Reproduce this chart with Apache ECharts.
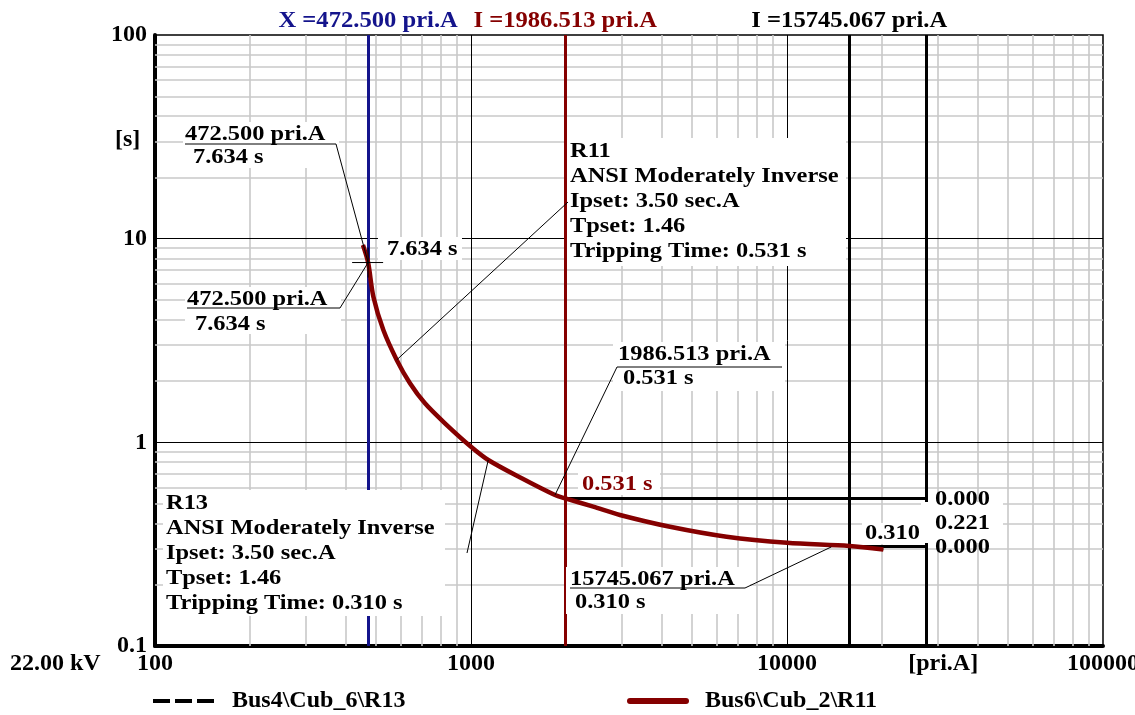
<!DOCTYPE html>
<html>
<head>
<meta charset="utf-8">
<script src="https://cdn.jsdelivr.net/npm/echarts@6/dist/echarts.min.js"></script>
<style>
  html, body { margin: 0; padding: 0; background: #fff; }
  #main { width: 1135px; height: 715px; }
</style>
</head>
<body>
<div id="main"></div>
<script>
// Time-overcurrent characteristic, ANSI moderately inverse (R11 / R13, same settings)
// primary current [pri.A] and tripping time [s]
const currentA  = [455, 472.5, 491, 528, 582, 641, 715, 827, 1000, 1134, 1447, 1844, 1986.513, 2438, 2961, 4264, 6442, 10000, 15745.067, 20180];
const tripTimeS = [9.30, 7.634, 5.19, 3.56, 2.54, 1.95, 1.554, 1.24, 0.951, 0.819, 0.666, 0.551, 0.531, 0.483, 0.440, 0.385, 0.344, 0.321, 0.310, 0.298];

// axis decades
const xDecades = [100, 1000, 10000, 100000];
const yDecades = [0.1, 1, 10, 100];

// cursors
const cursorX = 472.5,         cursorXTime = 7.634;
const cursorR11 = 1986.513,    timeR11 = 0.531;
const cursorR13 = 15745.067,   timeR13 = 0.310;
const diffMarkerX = 27500;
const diffLabels = ['0.000', '0.221', '0.000'];

const seriesR13 = 'Bus4\\Cub_6\\R13';
const seriesR11 = 'Bus6\\Cub_2\\R11';

const relayR11 = ['R11', 'ANSI Moderately Inverse', 'Ipset: 3.50 sec.A', 'Tpset: 1.46', 'Tripping Time: 0.531 s'];
const relayR13 = ['R13', 'ANSI Moderately Inverse', 'Ipset: 3.50 sec.A', 'Tpset: 1.46', 'Tripping Time: 0.310 s'];

const FONT = '"Liberation Serif", "Times New Roman", serif';
const RED = '#850000';
const BLUE = '#14148c';

const curve = currentA.map((c, i) => [c, tripTimeS[i]]);

// minor grid (2..9 within every decade)
const minorX = [], minorY = [];
for (let i = 0; i < xDecades.length - 1; i++) for (let m = 2; m <= 9; m++) minorX.push(xDecades[i] * m);
for (let i = 0; i < yDecades.length - 1; i++) for (let m = 2; m <= 9; m++) minorY.push(+(yDecades[i] * m).toPrecision(3));
const majorX = xDecades.slice(1, -1), majorY = yDecades.slice(1, -1);

const fmt = v => String(+Number(v).toPrecision(6));
const noLabel = { show: false };

const chart = echarts.init(document.getElementById('main'));

chart.setOption({
  animation: false,
  backgroundColor: '#fff',
  grid: {
    left: 155, right: 32, top: 35, bottom: 69,
    outerBoundsMode: 'none', containLabel: false,
    show: true, borderColor: '#000', borderWidth: 1.5, backgroundColor: 'transparent'
  },
  xAxis: {
    type: 'log', logBase: 10, min: 100, max: 100000,
    axisLine: { show: true, lineStyle: { color: '#000', width: 4 } },
    axisTick: { show: false },
    splitLine: { show: false },
    axisLabel: { margin: 6, color: '#000', fontFamily: FONT, fontWeight: 'bold', fontSize: 24, formatter: fmt }
  },
  yAxis: {
    type: 'log', logBase: 10, min: 0.1, max: 100,
    axisLine: { show: true, lineStyle: { color: '#000', width: 4 } },
    axisTick: { show: false },
    splitLine: { show: false },
    axisLabel: { margin: 8, color: '#000', fontFamily: FONT, fontWeight: 'bold', fontSize: 24, formatter: fmt }
  },
  legend: [
    {
      left: 153, top: 689, padding: 0, selectedMode: false,
      itemWidth: 61, itemHeight: 4,
      data: [{ name: seriesR13, icon: 'path://M0,0H17V4H0Z M22,0H39V4H22Z M44,0H61V4H44Z', itemStyle: { color: '#000', borderWidth: 0 } }],
      textStyle: { color: '#000', fontFamily: FONT, fontWeight: 'bold', fontSize: 24, padding: [0, 0, 0, 13] }
    },
    {
      left: 627, top: 689, padding: 0, selectedMode: false,
      itemWidth: 62, itemHeight: 6,
      data: [{ name: seriesR11, icon: 'path://M3,0H59A3,3 0 0 1 59,6H3A3,3 0 0 1 3,0Z', itemStyle: { color: RED, borderWidth: 0 } }],
      textStyle: { color: '#000', fontFamily: FONT, fontWeight: 'bold', fontSize: 24, padding: [0, 0, 0, 11] }
    }
  ],
  series: [
    {
      name: 'grid', type: 'line', data: [], silent: true, z: 1,
      markLine: {
        silent: true, symbol: ['none', 'none'], label: noLabel, animation: false,
        data: [
          ...minorX.map(v => ({ xAxis: v, lineStyle: { color: '#c8c8c8', width: 1.6, type: 'solid' } })),
          ...minorY.map(v => ({ yAxis: v, lineStyle: { color: '#c8c8c8', width: 1.6, type: 'solid' } })),
          ...majorX.map(v => ({ xAxis: v, lineStyle: { color: '#000', width: 1, type: 'solid' } })),
          ...majorY.map(v => ({ yAxis: v, lineStyle: { color: '#000', width: 1, type: 'solid' } }))
        ]
      }
    },
    {
      name: 'cursors', type: 'line', data: [], silent: true, z: 3,
      markLine: {
        silent: true, symbol: ['none', 'none'], label: noLabel, animation: false,
        data: [
          { xAxis: cursorX, lineStyle: { color: BLUE, width: 3, type: 'solid' } },
          { xAxis: cursorR11, lineStyle: { color: RED, width: 3, type: 'solid' } },
          { xAxis: cursorR13, lineStyle: { color: '#000', width: 3, type: 'solid' } },
          { xAxis: diffMarkerX, lineStyle: { color: '#000', width: 3, type: 'solid' } },
          [{ coord: [cursorR11, timeR11], lineStyle: { color: '#000', width: 3, type: 'solid' } }, { coord: [diffMarkerX, timeR11] }],
          [{ coord: [cursorR13, timeR13], lineStyle: { color: '#000', width: 3, type: 'solid' } }, { coord: [diffMarkerX, timeR13] }]
        ]
      }
    },
    {
      name: seriesR13, type: 'line', data: curve, z: 6, symbol: 'none', smooth: 0.3,
      itemStyle: { color: '#000' },
      lineStyle: { color: '#000', width: 2, type: [12, 4] }
    },
    {
      name: seriesR11, type: 'line', data: curve, z: 7, symbol: 'none', smooth: 0.3,
      itemStyle: { color: RED },
      lineStyle: { color: RED, width: 4.5 }
    }
  ]
});

// ---- annotations: white label boxes, texts, leader lines ----
const px = (x, y) => chart.convertToPixel({ gridIndex: 0 }, [x, y]);
const els = [];
const rect = (x, y, w, h) => els.push({ type: 'rect', z: 10, silent: true, shape: { x, y, width: w, height: h }, style: { fill: '#fff' } });
const line = (x1, y1, x2, y2, w, color) => els.push({ type: 'line', z: 30, silent: true, shape: { x1, y1, x2, y2 }, style: { stroke: color || '#000', lineWidth: w || 1 } });
const text = (x, y, s, o) => {
  o = o || {};
  els.push({
    type: 'text', z: 20, silent: true, x, y, scaleX: o.sx || 1.11,
    style: {
      text: s, fill: o.color || '#000',
      fontFamily: FONT, fontWeight: 'bold', fontSize: o.size || 22,
      align: o.align || 'left', verticalAlign: 'middle',
      textAlign: o.align || 'left', textVerticalAlign: 'middle'
    }
  });
};

const pX = px(cursorX, cursorXTime);
const pR11 = px(cursorR11, timeR11);
const pR13 = px(cursorR13, timeR13);
const pDiff = px(diffMarkerX, timeR11);

// cursor captions above the plot
text(pX[0], 21, 'X =' + cursorX.toFixed(3) + ' pri.A', { align: 'center', color: BLUE, size: 23, sx: 1.07 });
text(pR11[0], 21, 'I =' + cursorR11.toFixed(3) + ' pri.A', { align: 'center', color: RED, size: 23, sx: 1.07 });
text(pR13[0], 21, 'I =' + cursorR13.toFixed(3) + ' pri.A', { align: 'center', color: '#000', size: 23, sx: 1.07 });

// crosshair on the X cursor point
line(pX[0] - 16, pX[1], pX[0] + 15, pX[1], 1);
line(pX[0], pX[1] - 15, pX[0], pX[1] + 15, 1);

// X cursor: time next to the crosshair
rect(378, 237, 84, 23);
text(387, 249, cursorXTime.toFixed(3) + ' s');

// X cursor callout, upper
rect(183, 122, 156, 46);
text(185, 134, cursorX.toFixed(3) + ' pri.A');
text(193, 157, cursorXTime.toFixed(3) + ' s');
line(185, 144, 336, 144, 1);
line(336, 144, pX[0], pX[1], 1);

// X cursor callout, lower
rect(185, 287, 156, 47);
text(187, 299, cursorX.toFixed(3) + ' pri.A');
text(195, 324, cursorXTime.toFixed(3) + ' s');
line(187, 308, 340, 308, 1);
line(340, 308, pX[0], pX[1], 1);

// R11 relay block
rect(567, 138, 279, 128);
relayR11.forEach((s, i) => text(570, 151 + i * 25.2, s));
const pR11lead = px(currentA[4], tripTimeS[4]);
line(568, 202, pR11lead[0], pR11lead[1], 1);

// R11 cursor callout
rect(613, 342, 172, 49);
text(618, 354, cursorR11.toFixed(3) + ' pri.A');
text(623, 378, timeR11.toFixed(3) + ' s');
line(617, 367, 782, 367, 1);
const pR11near = px(currentA[11], tripTimeS[11]);
line(617, 367, pR11near[0], pR11near[1], 1);

// R11 tripping time on its cursor
rect(578, 472, 82, 23);
text(582, 484, timeR11.toFixed(3) + ' s', { color: RED });

// R13 relay block
rect(163, 490, 282, 126);
relayR13.forEach((s, i) => text(166, 503 + i * 25.1, s));
const pR13lead = px(currentA[9], tripTimeS[9]);
line(467, 553, pR13lead[0], pR13lead[1], 1);

// R13 cursor callout
rect(566, 567, 184, 47);
text(570, 579, cursorR13.toFixed(3) + ' pri.A');
text(575, 602, timeR13.toFixed(3) + ' s');
line(570, 588, 745, 588, 1);
line(745, 588, pR13[0] - 18, pR13[1] + 1, 1);

// R13 tripping time at the curve
rect(862, 523, 62, 21);
text(865, 533, timeR13.toFixed(3));

// time difference between both cursors
rect(921, 502, 82, 41);
const pDiff13 = px(diffMarkerX, timeR13);
text(935, pDiff[1] + 1, diffLabels[0]);
text(935, (pDiff[1] + pDiff13[1]) / 2 + 1, diffLabels[1]);
text(935, pDiff13[1] + 1, diffLabels[2]);

// axis names and voltage level
text(115, 140, '[s]', { size: 24, sx: 1 });
text(px(31200, 0.1)[0], 664, '[pri.A]', { size: 24, sx: 1, align: 'center' });
text(10, 664, '22.00 kV', { size: 24, sx: 1 });

chart.setOption({ graphic: { elements: els } });
</script>
</body>
</html>
